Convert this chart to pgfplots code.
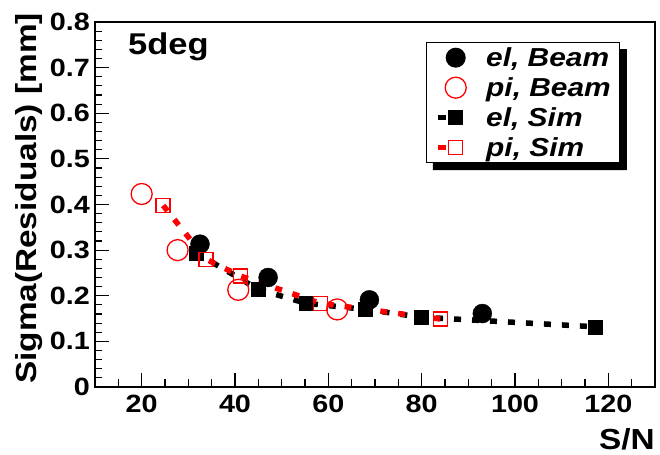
\documentclass[border=0pt]{standalone}
\usepackage{fontspec}
\setmainfont[FakeStretch=1.15]{Liberation Sans}
\usepackage{pgfplots}
\pgfplotsset{compat=1.18}
\pgfplotsset{
 beamlegend/.style={legend image code/.code={\path[draw=none, fill=none] (0,-15bp) rectangle (28bp,15bp); \draw[##1] plot coordinates {(18bp,0)};}},
 simlegend/.style={legend image code/.code={\path[draw=none, fill=none] (0,-15bp) rectangle (28bp,15bp); \draw[##1, mark=none, solid] (0,0) -- (8bp,0); \draw[##1, solid] plot coordinates {(18bp,0)};}},
}
\begin{document}
\begin{tikzpicture}
\begin{axis}[
 name=ax,
 scale only axis, width=560bp, height=365bp,
 xmin=10, xmax=130, ymin=0, ymax=0.8,
 axis line style={line width=1.2bp},
 tick style={line width=1.2bp, black},
 xtick={20,40,60,80,100,120},
 ytick={0,0.1,0.2,0.3,0.4,0.5,0.6,0.7,0.8},
 minor xtick={15,25,30,35,45,50,55,65,70,75,85,90,95,105,110,115,125},
 minor ytick={0.02,0.04,0.06,0.08,0.12,0.14,0.16,0.18,0.22,0.24,0.26,0.28,0.32,0.34,0.36,0.38,0.42,0.44,0.46,0.48,0.52,0.54,0.56,0.58,0.62,0.64,0.66,0.68,0.72,0.74,0.76,0.78},
 xtick pos=bottom, ytick pos=left, tick align=inside,
 major tick length=14bp, minor tick length=7.5bp,
 /pgf/number format/assume math mode=true,
 tick label style={font=\fontsize{25bp}{25bp}\selectfont\bfseries, inner sep=0pt},
 xticklabel shift=8bp, yticklabel shift=5bp,
 yticklabel style={/pgf/number format/fixed},
 xlabel={S/N}, ylabel={Sigma(Residuals) [mm]},
 label style={font=\fontsize{29bp}{29bp}\selectfont\bfseries, inner sep=0pt},
 xlabel style={at={(axis description cs:1,-0.170)}, anchor=base east},
 ylabel style={at={(axis description cs:-0.1036,1.0247)}, anchor=base east},
 legend style={at={(axis description cs:0.591,0.9447)}, anchor=north west, name=leg,
   draw=black, line width=1bp, fill=white,
   inner xsep=8.5bp, inner ysep=0bp, row sep=0bp, column sep=20bp,
   font=\fontsize{26bp}{26bp}\selectfont\bfseries\itshape,
   nodes={inner sep=0pt}},
 legend cell align=left,
]
\addplot[only marks, mark=*, mark size=9.5bp, black, beamlegend]
 coordinates {(32.5,0.313) (47.1,0.240) (68.8,0.191) (93.0,0.161)};
\addlegendentry{el, Beam}
\addplot[only marks, mark=o, mark size=10.5bp, red, mark options={line width=1.3bp}, beamlegend]
 coordinates {(20.0,0.423) (27.7,0.300) (40.7,0.213) (61.9,0.170)};
\addlegendentry{pi, Beam}
\addplot[black, line width=5.5bp, dash pattern=on 7bp off 11bp, line cap=butt,
  mark=square*, mark size=7bp, mark options={solid, line width=0.5bp}, simlegend]
 coordinates {(31.8,0.293) (45.0,0.214) (55.2,0.1835) (68.0,0.170) (79.9,0.153) (117.1,0.132)};
\addlegendentry{el, Sim}
\addplot[red, line width=5.5bp, dash pattern=on 7bp off 11bp, line cap=butt,
  mark=square, mark size=7bp, mark options={solid, line width=1.3bp}, simlegend]
 coordinates {(24.6,0.398) (33.8,0.280) (41.2,0.243) (58.3,0.1835) (84.0,0.149)};
\addlegendentry{pi, Sim}
\node[anchor=base west, font=\fontsize{30bp}{30bp}\selectfont\bfseries, inner sep=0pt]
  at (axis description cs:0.0589,0.9096) {5deg};
\end{axis}
\fill[black] ([yshift=-7bp]leg.north east) -- ([xshift=7bp,yshift=-7bp]leg.north east) -- ([xshift=7bp,yshift=-7bp]leg.south east) -- ([xshift=7bp,yshift=-7bp]leg.south west) -- ([xshift=7bp]leg.south west) -- (leg.south east) -- cycle;
\pgfresetboundingbox
\path[use as bounding box] ([xshift=-95bp,yshift=-68bp]ax.south west) rectangle ([xshift=5bp,yshift=22bp]ax.north east);
\end{tikzpicture}
\end{document}
